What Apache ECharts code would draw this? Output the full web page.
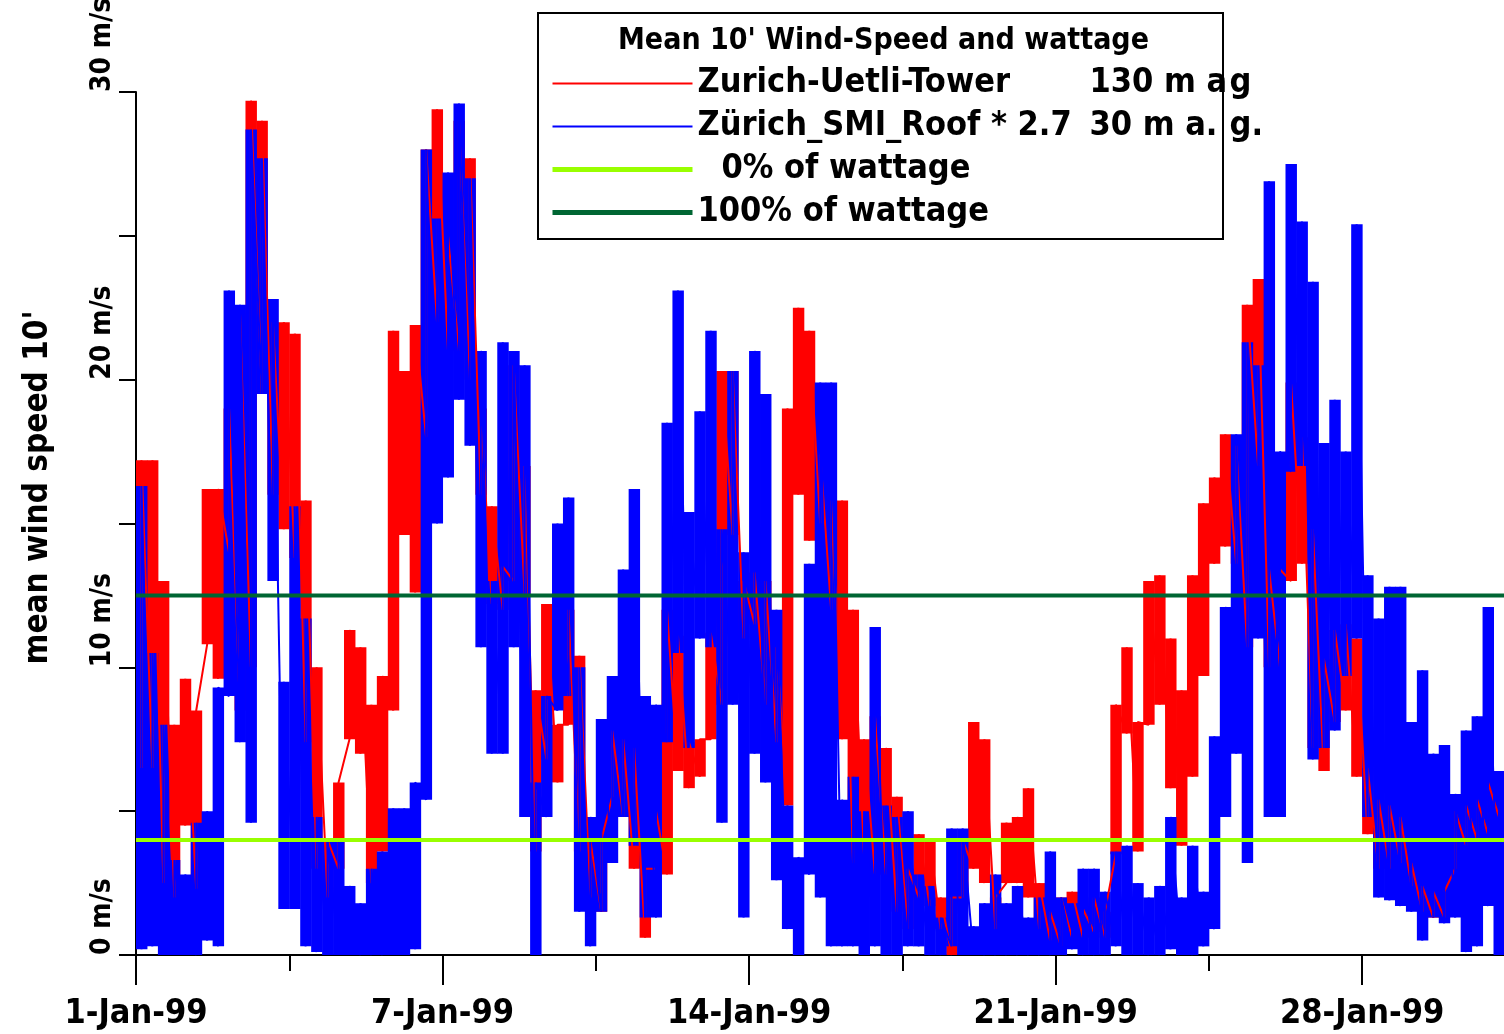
<!DOCTYPE html>
<html>
<head>
<meta charset="utf-8">
<title>Mean 10' Wind-Speed and wattage</title>
<script src="https://cdn.jsdelivr.net/npm/echarts@6/dist/echarts.min.js"></script>
<style>
html, body { margin: 0; padding: 0; background: #fff; }
#chart { width: 1504px; height: 1034px; }
</style>
</head>
<body>
<div id="chart"></div>
<script>
// mean 10' wind speed, Zurich, January 1999 (m/s)
// one column per quarter day, low and high of the trace in it
const stepDays = 0.25;

const towerLow = [
  6.5, 6.5, 2.5, 2,    4.5, 2.3, 10.8, 9.6,   14, 8.5, 10, 19.5,   16, 14.8, 13.8, 7.4,
  3, 2, 3, 7.5,        7, 2.5, 3.6, 8.5,      14.6, 12.6, 18, 22,  21, 21, 20, 16,
  12.2, 12, 13, 12.5,  3.6, 6.8, 6, 8,        3.6, 2, 1.5, 5.5,    4.8, 3, 0.6, 3,
  2.8, 6.4, 5.8, 6.2,  7.5, 8.7, 14.6, 11,    11.5, 8.7, 7.4, 5.2, 16, 14.4, 15, 12,
  7.5, 3.2, 3.5, 2.8,  2.8, 1.5, 0.9, 2,      1.7, 0.9, 0, 2,      3, 2.5, 0.9, 2.5,
  2.5, 2, 0.9, 0.5,    0.3, 0.6, 0.6, 0.8,    0.6, 3.5, 7.7, 3.6,  8, 8.7, 5.8, 3.8,
  6.2, 9.7, 13.6, 14.2, 13.6, 10.7, 17, 10,   10, 13, 13.6, 7.2,   6.4, 8.1, 8.5, 6.2,
  4.2, 3, 3, 3.2,      2.4, 1.5, 1.3, 1.3,    3, 3.8, 4, 4.2,      4.8
];
const towerHigh = [
  17.2, 17.2, 13, 8,   9.6, 8.5, 16.2, 16.2,  19, 22.3, 29.7, 29,  22, 22, 21.6, 15.8,
  10, 4, 6, 11.3,      10.7, 8.7, 9.7, 21.7,  20.3, 21.9, 28, 29.4, 25, 29, 27.7, 19,
  15.6, 13.5, 20.5, 17, 9.2, 12.2, 8, 12,     10.4, 4, 4, 7.8,     7.5, 7.2, 3, 5,
  12, 11.1, 7.4, 7.5,  11.2, 20.3, 20.3, 13,  13.3, 13, 10.7, 19,  22.5, 21.7, 17.4, 15.8,
  15.8, 12, 7.5, 8.3,  7.2, 5.5, 3, 4.2,      4, 2, 2, 4,          8.1, 7.5, 2, 4.6,
  4.8, 5.8, 2.5, 1.5,  2, 2.2, 1.6, 2,        1.5, 8.7, 10.7, 8.1, 13, 13.2, 11, 9.2,
  13.2, 15.7, 16.6, 18.1, 17.7, 22.6, 23.5, 13.4, 13.4, 19.9, 18, 14.8, 10.3, 11.3, 11.5, 11,
  6.5, 5.4, 5.2, 4.8,  3.2, 2.4, 2.2, 2.2,    5, 5.2, 5.4, 6,      6
];
const roofLow = [
  0.2, 0.3, 0, 0,      0, 0, 0.5, 0.3,        9, 7.4, 4.6, 19.5,   13, 1.6, 1.6, 0.3,
  0.1, 0, 0, 0,        0, 0, 0, 0,            0, 0.2, 5.4, 15,     16.6, 19.3, 17.7, 10.7,
  7, 7, 10.7, 4.8,     0, 4.8, 8.5, 9,        1.5, 0.3, 1.5, 3.2,  4.8, 3.8, 1.3, 1.3,
  7.4, 10.5, 7.2, 11,  10.7, 4.6, 8.7, 1.3,   7, 6, 2.6, 0.9,      0, 2.8, 2, 0.3,
  0.3, 0.3, 0, 0.3,    0, 0, 0.3, 0.3,        0, 0, 0.3, 0,        0, 0, 0, 0,
  0, 0, 0, 0,          0, 0.2, 0, 0,          0, 0.3, 0, 0,        0, 0, 0.2, 0,
  0, 0.3, 0.9, 4.8,    7, 3.2, 11, 4.8,       4.8, 16.8, 17, 6.8,  7.2, 7.8, 9.7, 11,
  4.8, 2, 1.9, 1.7,    1.5, 0.5, 1.3, 1.1,    1.3, 0.1, 0.3, 1.7,  0
];
const roofHigh = [
  16.3, 10.5, 8, 3.3,  2.8, 4.6, 5, 9.3,      23.1, 22.6, 28.7, 27.7, 22.8, 9.5, 15.6, 11.7,
  4.8, 4, 4, 2.4,      1.8, 3, 3.6, 5.1,      5.1, 6, 28, 25.6,    27.2, 29.6, 27, 21,
  13, 21.3, 21, 20.5,  6, 9, 15, 15.9,        10, 4.8, 8.2, 9.7,   13.4, 16.2, 9, 8.7,
  18.5, 23.1, 15.4, 18.9, 21.7, 14.8, 20.3, 14, 21, 19.5, 12, 5.2, 3.4, 13.6, 19.9, 19.9,
  5.4, 6.2, 5, 11.4,   5.2, 4.8, 5, 2.8,      2.4, 1.3, 4.4, 4.4,  1, 1.8, 2.8, 1.8,
  2.4, 1.3, 2, 3.6,    2, 1.8, 3, 3,          2.2, 3.6, 3.8, 2.5,  2, 2.4, 4.8, 2,
  3.8, 2.2, 7.6, 12.1, 18.1, 21.3, 20.5, 26.9, 17.5, 27.5, 25.5, 23.4, 17.8, 19.3, 17.5, 25.4,
  13.2, 11.7, 12.8, 12.8, 8.1, 9.9, 7, 7.3,   5.6, 7.8, 8.3, 12.1, 6.4
];

// wattage thresholds (m/s)
const zeroWattage = 4.0;
const fullWattage = 12.5;

const tickDays = [0, 7, 14, 21, 28];
const tickLabels = ['1-Jan-99', '7-Jan-99', '14-Jan-99', '21-Jan-99', '28-Jan-99'];
const speedTicks = [0, 10, 20, 30];
const speedLabels = ['0 m/s', '10 m/s', '20 m/s', '30 m/s'];

const seriesNames = ['Zurich-Uetli-Tower', 'Zürich_SMI_Roof * 2.7', '0% of wattage', '100% of wattage'];

const lastDay = 31.5;
const narrow = "'Liberation Sans Narrow', 'Arial Narrow', 'DejaVu Sans Condensed', sans-serif";

// [mid day, low, high] per column
function columns(low, high) {
  return low.map(function (v, i) { return [i * stepDays + stepDays / 2, v, high[i]]; });
}
// trace: up inside a column, down to the next column's low
function trace(low, high) {
  const pts = [];
  for (let i = 0; i < low.length; i++) {
    const d = i * stepDays + stepDays / 2;
    pts.push([d, low[i]]);
    pts.push([d, high[i]]);
  }
  return pts;
}

function renderColumn(params, api) {
  const d = api.value(0);
  const half = stepDays * 0.5;
  const top = api.coord([d - half, api.value(2)]);
  const bot = api.coord([d + half, api.value(1)]);
  return {
    type: 'rect',
    shape: { x: top[0], y: top[1], width: bot[0] - top[0] + 0.5, height: Math.max(bot[1] - top[1], 2) },
    style: { fill: api.visual('color') }
  };
}

function txt(size, extra) {
  return Object.assign({ fontFamily: narrow, fontWeight: 'bold', fontSize: size, color: '#000' }, extra || {});
}

const chart = echarts.init(document.getElementById('chart'));

const option = {
  backgroundColor: '#ffffff',
  animation: false,
  title: {
    text: "Mean 10' Wind-Speed and wattage",
    left: 618, top: 26, padding: 0,
    textStyle: txt(30)
  },
  graphic: [{
    type: 'rect', left: 537, top: 12, z: 3, silent: true,
    shape: { width: 685, height: 226 },
    style: { fill: '#fff', stroke: '#000', lineWidth: 2 }
  }],
  legend: {
    orient: 'vertical', left: 550, top: 65, padding: 0,
    itemWidth: 140, itemHeight: 10, itemGap: 6,
    selectedMode: false,
    itemStyle: { opacity: 0 },
    data: [
      { name: seriesNames[0], lineStyle: { width: 2 } },
      { name: seriesNames[1], lineStyle: { width: 2 } },
      { name: seriesNames[2], lineStyle: { width: 5 } },
      { name: seriesNames[3], lineStyle: { width: 5 } }
    ],
    textStyle: txt(34, {
      lineHeight: 37,
      rich: {
        n: txt(34, { width: 392 }),
        u: txt(34, { width: 140 }),
        g: txt(34),
        i: txt(34, { padding: [0, 0, 0, 24] })
      }
    }),
    formatter: function (name) {
      if (name === seriesNames[0]) return '{n|' + name + '}{u|130 m a}{g|g}';
      if (name === seriesNames[1]) return '{n|' + name + '}{u|30 m a.}{g|g.}';
      if (name === seriesNames[2]) return '{i|' + name + '}';
      return '{g|' + name + '}';
    }
  },
  grid: { left: 136, right: -11.4, top: 92, bottom: 79, outerBoundsMode: 'none' },
  xAxis: {
    type: 'value', min: 0, max: lastDay, interval: 7,
    axisLine: { onZero: false, lineStyle: { color: '#000', width: 2 } },
    axisTick: { length: 30, lineStyle: { color: '#000', width: 2 } },
    minorTick: { show: true, splitNumber: 2, length: 16, lineStyle: { color: '#000', width: 2 } },
    splitLine: { show: false },
    minorSplitLine: { show: false },
    axisLabel: txt(34, {
      margin: 42,
      formatter: function (v) {
        const k = tickDays.indexOf(v);
        return k < 0 ? '' : tickLabels[k];
      }
    })
  },
  yAxis: {
    type: 'value', min: 0, max: 30, interval: 5,
    name: "mean wind speed 10'",
    nameLocation: 'middle', nameRotate: 90, nameGap: 81,
    nameTextStyle: txt(33, { padding: [0, 0, 0, 72] }),
    axisLine: { show: true, lineStyle: { color: '#000', width: 2 } },
    axisTick: { show: true, length: 17, lineStyle: { color: '#000', width: 2 } },
    splitLine: { show: false },
    axisLabel: txt(28, {
      rotate: 90, margin: 19, align: 'left', verticalAlign: 'bottom',
      formatter: function (v) {
        const k = speedTicks.indexOf(v);
        return k < 0 ? '' : speedLabels[k];
      }
    })
  },
  series: [
    {
      name: 'tower columns', type: 'custom', silent: true, clip: true,
      renderItem: renderColumn, encode: { x: 0, y: [1, 2] },
      itemStyle: { color: '#ff0000' },
      data: columns(towerLow, towerHigh)
    },
    {
      name: seriesNames[0], type: 'line', symbol: 'none', silent: true,
      data: trace(towerLow, towerHigh),
      lineStyle: { color: '#ff0000', width: 2 },
      itemStyle: { color: '#ff0000' }
    },
    {
      name: 'roof columns', type: 'custom', silent: true, clip: true,
      renderItem: renderColumn, encode: { x: 0, y: [1, 2] },
      itemStyle: { color: '#0000ff' },
      data: columns(roofLow, roofHigh)
    },
    {
      name: seriesNames[1], type: 'line', symbol: 'none', silent: true,
      data: trace(roofLow, roofHigh),
      lineStyle: { color: '#0000ff', width: 2 },
      itemStyle: { color: '#0000ff' }
    },
    {
      name: seriesNames[2], type: 'line', symbol: 'none', silent: true,
      data: [[0, zeroWattage], [lastDay, zeroWattage]],
      lineStyle: { color: '#99ff00', width: 4 },
      itemStyle: { color: '#99ff00' }
    },
    {
      name: seriesNames[3], type: 'line', symbol: 'none', silent: true,
      data: [[0, fullWattage], [lastDay, fullWattage]],
      lineStyle: { color: '#006633', width: 4 },
      itemStyle: { color: '#006633' }
    }
  ]
};

chart.setOption(option);
</script>
</body>
</html>
